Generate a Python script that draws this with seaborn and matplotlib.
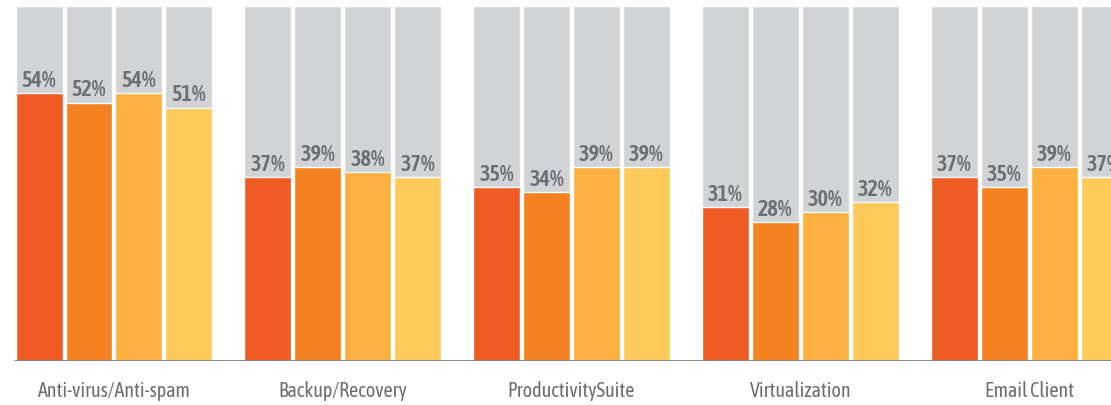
import matplotlib
matplotlib.use("Agg")
import matplotlib.pyplot as plt
import seaborn as sns
import pandas as pd

# ---- data ----
categories = ["Anti-virus/Anti-spam", "Backup/Recovery", "ProductivitySuite",
              "Virtualization", "Email Client"]
series = ["Series 1", "Series 2", "Series 3", "Series 4"]
s1 = [54, 37, 35, 31, 37]
s2 = [52, 39, 34, 28, 35]
s3 = [54, 38, 39, 30, 39]
s4 = [51, 37, 39, 32, 37]
background = 71.5  # height of the grey track bars

colors = ["#f05a24", "#f58220", "#fbb040", "#fdca5b"]
track_color = "#d1d3d4"
text_color = "#6d6e70"

rows = []
for name, vals in zip(series, [s1, s2, s3, s4]):
    for c, v in zip(categories, vals):
        rows.append({"category": c, "series": name, "value": v, "track": background})
df = pd.DataFrame(rows)

sns.set_theme(style="white")
plt.rcParams["font.family"] = ["Asap Condensed", "DejaVu Sans"]

fig = plt.figure(figsize=(11.11, 4.06), dpi=100)
ax = fig.add_axes([0, 44 / 406, 1, 362 / 406])

group_width = 0.873
gap = 0.06

sns.barplot(data=df, x="category", y="track", hue="series", order=categories,
            hue_order=series, palette=[track_color] * 4, width=group_width, gap=gap,
            saturation=1, errorbar=None, legend=False, ax=ax)
sns.barplot(data=df, x="category", y="value", hue="series", order=categories,
            hue_order=series, palette=colors, width=group_width, gap=gap,
            saturation=1, errorbar=None, legend=False, ax=ax)

for cont in ax.containers[4:]:
    ax.bar_label(cont, fmt="{:.0f}%", padding=1.5, color=text_color,
                 fontsize=16, fontweight=600)

ax.set_xlim(-0.498, 4.358)
ax.set_ylim(0, 72.84)
ax.set_xlabel("")
ax.set_ylabel("")
ax.set_yticks([])
for sp in ax.spines.values():
    sp.set_visible(False)
ax.hlines(0, -group_width / 2, ax.get_xlim()[1], color="#808285", lw=2, zorder=5)
ax.tick_params(axis="x", length=0, pad=14, labelsize=14.5, labelcolor=text_color)

fig.savefig("out.png", dpi=100)
